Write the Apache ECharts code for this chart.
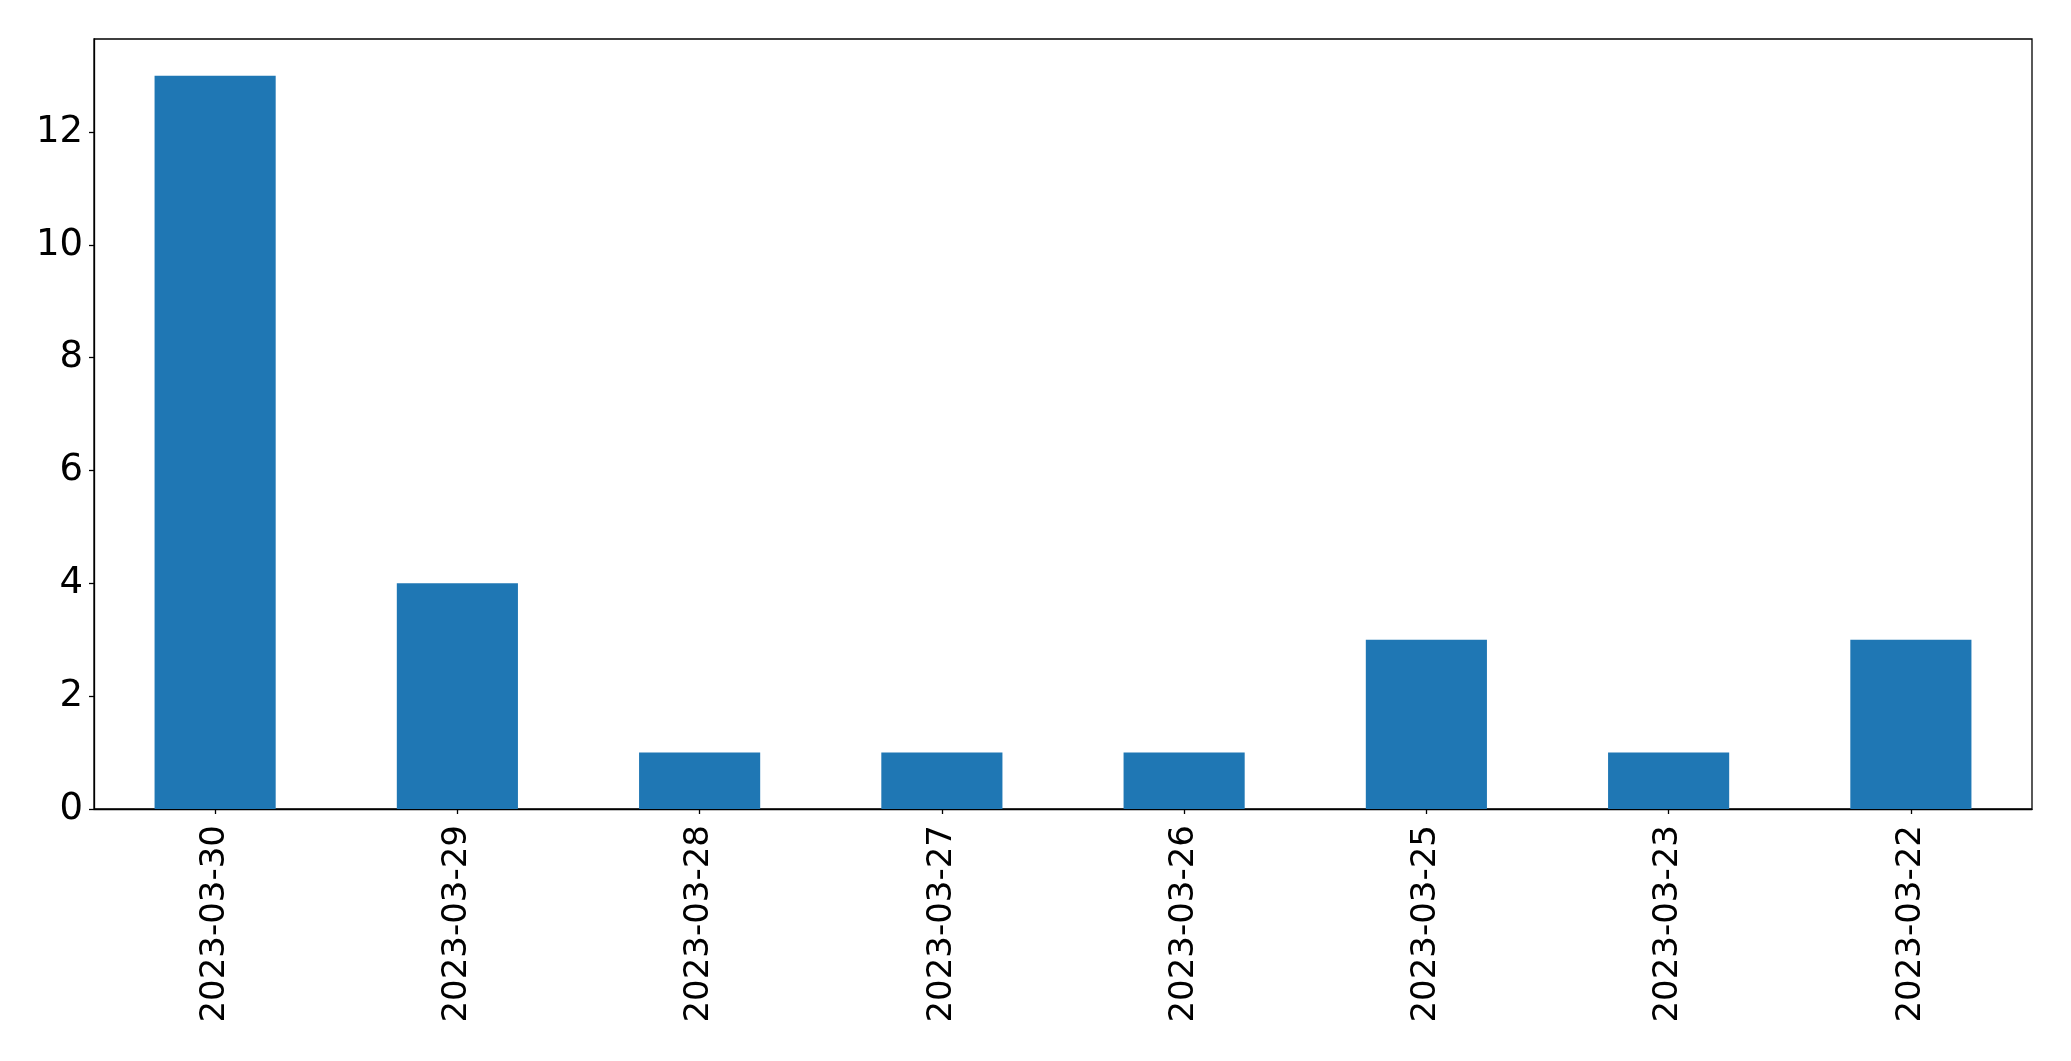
<!DOCTYPE html>
<html>
<head>
<meta charset="utf-8">
<script src="https://cdn.jsdelivr.net/npm/echarts@6/dist/echarts.min.js"></script>
<style>
html,body{margin:0;padding:0;background:#fff;}
#chart{width:2071px;height:1061px;}
</style>
</head>
<body>
<div id="chart"></div>
<script>
const categories = ['2023-03-30','2023-03-29','2023-03-28','2023-03-27','2023-03-26','2023-03-25','2023-03-23','2023-03-22'];
const values = [13, 4, 1, 1, 1, 3, 1, 3];
const yTicks = [0, 2, 4, 6, 8, 10, 12];

const chart = echarts.init(document.getElementById('chart'), null, {renderer: 'canvas'});
const font = 'DejaVu Sans';
chart.setOption({
  animation: false,
  backgroundColor: '#ffffff',
  grid: {left: 94, top: 39, right: 39, bottom: 252, show: true, borderColor: '#000', borderWidth: 1.3, containLabel: false},
  xAxis: {
    type: 'category',
    data: categories,
    boundaryGap: true,
    axisLine: {show: true, lineStyle: {color: '#000', width: 1.3}},
    axisTick: {show: true, alignWithLabel: true, length: 5, lineStyle: {color: '#000', width: 1.3}},
    axisLabel: {rotate: 90, margin: 16, fontSize: 34, fontFamily: font, color: '#000', interval: 0}
  },
  yAxis: {
    type: 'value',
    min: 0,
    max: 13.65,
    interval: 2,
    splitLine: {show: false},
    axisLine: {show: true, lineStyle: {color: '#000', width: 1.3}},
    axisTick: {show: true, length: 5, lineStyle: {color: '#000', width: 1.3}, customValues: yTicks},
    axisLabel: {margin: 11, fontSize: 37, fontFamily: font, color: '#000', customValues: yTicks}
  },
  series: [{
    type: 'bar',
    data: values,
    barWidth: '50%',
    itemStyle: {color: '#1f77b4'}
  }]
});
</script>
</body>
</html>
